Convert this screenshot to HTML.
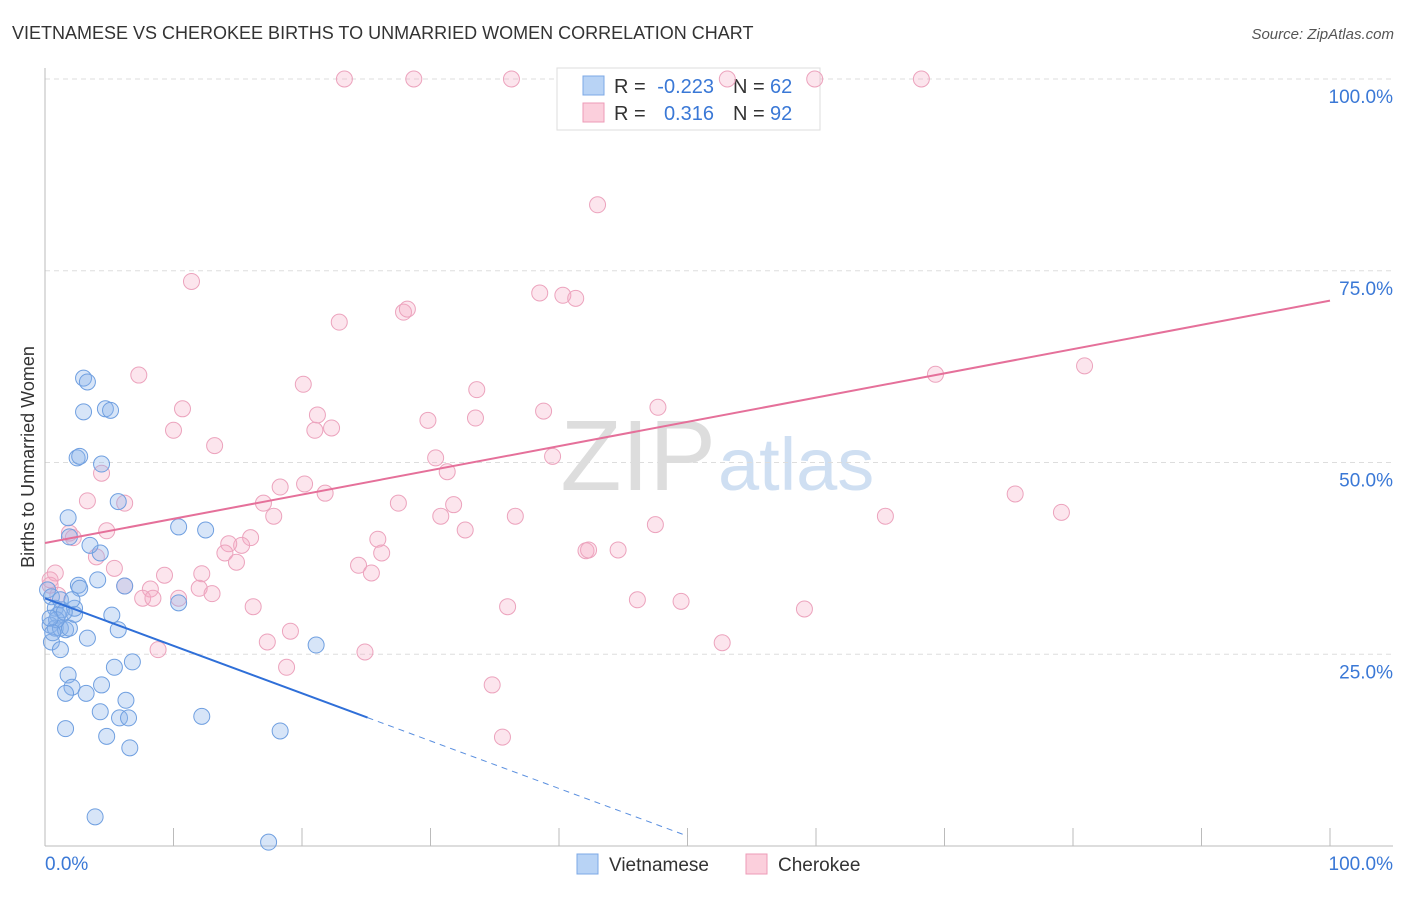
<!DOCTYPE html>
<html><head><meta charset="utf-8"><style>
body{margin:0;background:#fff;font-family:"Liberation Sans",sans-serif;}
svg text{font-family:"Liberation Sans",sans-serif;}
</style></head><body>
<svg id="chart" width="1406" height="892">
<text x="12" y="39" font-size="18" fill="#333">VIETNAMESE VS CHEROKEE BIRTHS TO UNMARRIED WOMEN CORRELATION CHART</text>
<text x="1394" y="39" font-size="15" fill="#555" font-style="italic" text-anchor="end">Source: ZipAtlas.com</text>
<text transform="translate(34,457) rotate(-90)" font-size="18" fill="#333" text-anchor="middle">Births to Unmarried Women</text>
<text x="716" y="490" font-size="100" fill="#ddd" text-anchor="end" font-family="Liberation Serif">ZIP</text>
<text x="718" y="490" font-size="74" fill="#cfdff2">atlas</text>
<g id="grid"></g>
<g>
<rect x="557" y="68" width="263" height="62" fill="#fff" stroke="#ddd"/>
<rect x="583" y="76" width="21" height="19" fill="#b8d3f5" stroke="#7ca8e6"/>
<rect x="583" y="103" width="21" height="19" fill="#fbcfdc" stroke="#ee9bb7"/>
<text x="614" y="93" font-size="20" fill="#333">R =</text>
<text x="714" y="93" font-size="20" fill="#3a78d6" text-anchor="end">-0.223</text>
<text x="733" y="93" font-size="20" fill="#333">N =</text>
<text x="770" y="93" font-size="20" fill="#3a78d6">62</text>
<text x="614" y="120" font-size="20" fill="#333">R =</text>
<text x="714" y="120" font-size="20" fill="#3a78d6" text-anchor="end">0.316</text>
<text x="733" y="120" font-size="20" fill="#333">N =</text>
<text x="770" y="120" font-size="20" fill="#3a78d6">92</text>
</g>
<g id="pts"></g><g id="trend"></g>
<g>
<rect x="577" y="854" width="21" height="20" fill="#b8d3f5" stroke="#7ca8e6"/>
<text x="609" y="871" font-size="19" fill="#333">Vietnamese</text>
<rect x="746" y="854" width="21" height="20" fill="#fbcfdc" stroke="#ee9bb7"/>
<text x="778" y="871" font-size="19" fill="#333">Cherokee</text>
</g>
</svg>
<script>
const yTicks=[25,50,75,100];
const yTickLabels=["25.0%","50.0%","75.0%","100.0%"];
const xTickVals=[0,10,20,30,40,50,60,70,80,90,100];
const xEndLabels=["0.0%","100.0%"];
const vietX=[0.2,0.5,0.8,1.0,1.3,0.4,0.8,1.2,1.6,1.9,0.5,1.2,2.3,2.3,2.6,2.7,4.1,4.3,3.5,1.8,1.9,5.7,10.4,12.5,6.2,5.2,5.7,3.3,10.4,21.1,3.0,3.3,3.0,4.7,5.1,2.5,2.7,4.4,1.8,2.1,1.6,3.2,4.4,5.4,6.8,6.3,4.3,5.8,6.5,1.6,4.8,6.6,12.2,18.3,3.9,17.4,1.2,0.9,1.5,0.4,0.6,2.1];
const vietY=[33.4,32.5,31.0,30.1,30.8,28.8,28.4,28.4,28.2,28.4,26.6,25.6,30.2,31.0,34.0,33.6,34.7,38.2,39.2,42.8,40.3,44.9,41.6,41.2,33.9,30.1,28.2,27.1,31.7,26.2,61.0,60.5,56.6,57.0,56.8,50.6,50.8,49.8,22.3,20.7,19.9,19.9,21.0,23.3,24.0,19.0,17.5,16.7,16.7,15.3,14.3,12.8,16.9,15.0,3.8,0.5,32.1,29.5,30.5,29.7,27.8,32.1];
const cherX=[23.3,28.7,36.3,53.1,59.9,68.2,43.0,11.4,22.9,27.9,28.2,38.5,40.3,41.3,7.3,20.1,33.6,69.3,80.9,10.7,10.0,21.2,21.0,22.3,29.8,33.5,38.8,47.7,13.2,39.5,30.4,31.3,75.5,79.1,65.4,3.3,4.4,6.2,17.0,18.3,20.2,21.8,27.5,31.8,17.8,30.8,36.6,32.7,47.5,1.9,2.2,4.8,25.9,16.0,15.3,14.3,14.0,14.9,26.2,24.4,25.4,42.1,42.3,44.6,0.8,0.4,4.0,5.4,9.3,12.2,8.2,7.6,10.4,8.4,12.0,13.0,16.2,36.0,46.1,49.5,59.1,19.1,17.3,18.8,24.9,8.8,52.7,34.8,35.6,0.4,6.2,1.0];
const cherY=[100,100,100,100,100,100,83.6,73.6,68.3,69.6,70.0,72.1,71.8,71.4,61.4,60.2,59.5,61.5,62.6,57.0,54.2,56.2,54.2,54.5,55.5,55.8,56.7,57.2,52.2,50.8,50.6,48.8,45.9,43.5,43.0,45.0,48.6,44.7,44.7,46.8,47.2,46.0,44.7,44.5,43.0,43.0,43.0,41.2,41.9,40.8,40.2,41.1,40.0,40.2,39.2,39.4,38.2,37.0,38.2,36.6,35.6,38.5,38.6,38.6,35.6,34.0,37.7,36.2,35.3,35.5,33.5,32.3,32.3,32.3,33.6,32.9,31.2,31.2,32.1,31.9,30.9,28.0,26.6,23.3,25.3,25.6,26.5,21.0,14.2,34.7,33.9,32.7];
const vietTrend=[32.3,-0.62];
const vietSolidEnd=25.1, vietDashEnd=50;
const cherTrend=[39.5,0.316];
const NS="http://www.w3.org/2000/svg";
const X=v=>45+v*12.85, Y=v=>846-v*7.67;
function mk(tag,attrs,parent){const e=document.createElementNS(NS,tag);for(const k in attrs)e.setAttribute(k,attrs[k]);parent.appendChild(e);return e;}
const grid=document.getElementById('grid');
yTicks.forEach((t,i)=>{
  const l=mk('line',{x1:45,x2:1393,y1:Y(t),y2:Y(t),stroke:'#ddd','stroke-dasharray':'5,4'},grid);
  
  
  const tx=mk('text',{x:1393,y:Y(t)+24,'font-size':19,fill:'#3a78d6','text-anchor':'end'},grid);
  tx.textContent=yTickLabels[i];
  
  
});
let ax=mk('line',{x1:45,x2:45,y1:68,y2:846,stroke:'#bbb'},grid);


ax=mk('line',{x1:45,x2:1393,y1:846,y2:846,stroke:'#bbb'},grid);


xTickVals.forEach(v=>{
  const t=mk('line',{x1:X(v),x2:X(v),y1:828,y2:846,stroke:'#bbb'},grid);
  
  
});
[[0,'start',45],[1,'end',1393]].forEach(([i,a,x])=>{
  const tx=mk('text',{x:x,y:870,'font-size':19,fill:'#3a78d6','text-anchor':a},grid);
  tx.textContent=xEndLabels[i];
  
  
});
const pts=document.getElementById('pts');
cherX.forEach((x,i)=>{
  const c=mk('circle',{cx:X(x),cy:Y(cherY[i]),r:8,fill:'rgba(246,170,196,0.3)',stroke:'#eca3bd','stroke-width':1},pts);
  
  
});
vietX.forEach((x,i)=>{
  const c=mk('circle',{cx:X(x),cy:Y(vietY[i]),r:8,fill:'rgba(140,180,235,0.35)',stroke:'#6f9fe0','stroke-width':1},pts);
  
  
});
const tr=document.getElementById('trend');
const vy=x=>vietTrend[0]+vietTrend[1]*x, cy=x=>cherTrend[0]+cherTrend[1]*x;
let l=mk('line',{x1:X(0),y1:Y(vy(0)),x2:X(vietSolidEnd),y2:Y(vy(vietSolidEnd)),stroke:'#2f6fd8','stroke-width':2},tr);


l=mk('line',{x1:X(vietSolidEnd),y1:Y(vy(vietSolidEnd)),x2:X(vietDashEnd),y2:Y(vy(vietDashEnd)),stroke:'#5a8fdf','stroke-width':1,'stroke-dasharray':'6,5'},tr);


l=mk('line',{x1:X(0),y1:Y(cy(0)),x2:X(100),y2:Y(cy(100)),stroke:'#e5709a','stroke-width':2},tr);


</script>
</body></html>
